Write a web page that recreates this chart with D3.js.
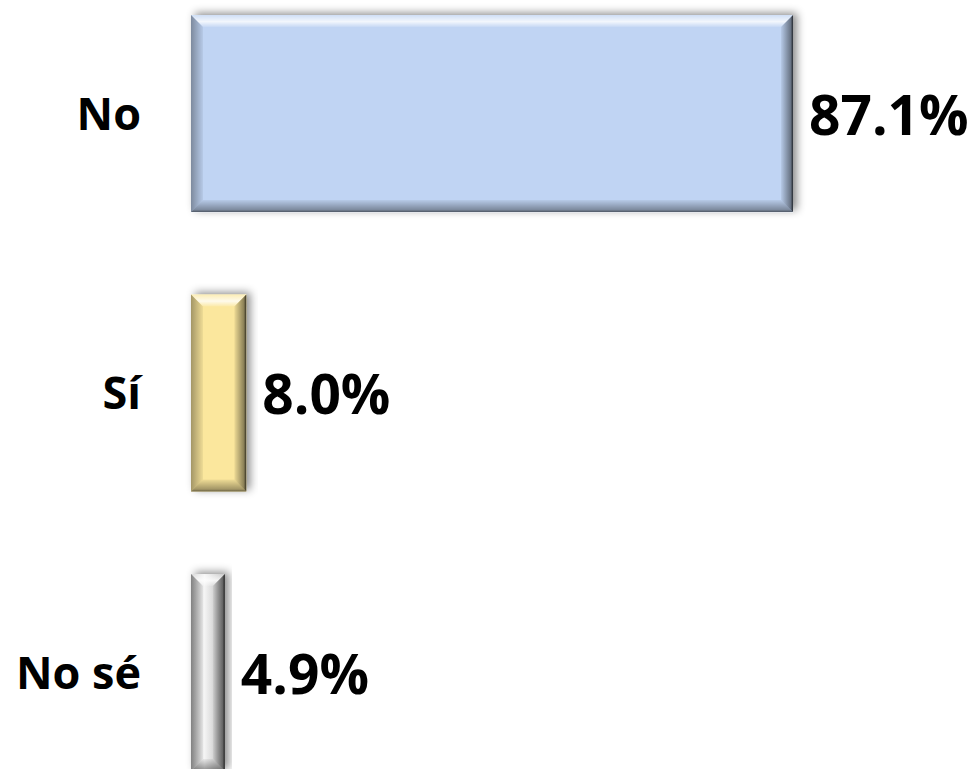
<!DOCTYPE html>
<html>
<head>
<meta charset="utf-8">
<script src="https://cdn.jsdelivr.net/npm/d3@7"></script>
<style>
  html, body { margin: 0; padding: 0; background: #fff; }
  svg { display: block; }
</style>
</head>
<body>
<svg id="chart"></svg>
<script>
// Chart data
const categories = ["No", "Sí", "No sé"];
const values = [87.1, 8.0, 4.9];

// Bar base colours (one per category)
const barColors = ["#c0d4f3", "#fbe79d", "#dcdcdc"];

const width = 973, height = 769;
const bevel = 12;

const svg = d3.select("#chart").attr("width", width).attr("height", height);

const x = d3.scaleLinear().domain([0, d3.max(values)]).range([191, 793]);
const y = d3.scaleBand().domain(categories)
    .range([-26.2, 812.3]).paddingInner(0.295).paddingOuter(0.1475);
const color = d3.scaleOrdinal().domain(categories).range(barColors);

// Gradients and shadow
const defs = svg.append("defs");

function grad(id, x2, y2, stops) {
    const g = defs.append("linearGradient").attr("id", id)
        .attr("x1", 0).attr("y1", 0).attr("x2", x2).attr("y2", y2);
    stops.forEach(s => g.append("stop")
        .attr("offset", s[0]).attr("stop-color", s[1]).attr("stop-opacity", s[2]));
}
grad("gTop", 0, 1, [[0, "#fff", 0.25], [0.55, "#fff", 0.8], [1, "#fff", 0.1]]);
grad("gLeft", 1, 0, [[0, "#000", 0.35], [1, "#000", 0.05]]);
grad("gRight", 1, 0, [[0, "#000", 0.05], [0.8, "#000", 0.45], [1, "#000", 0.8]]);
grad("gBottom", 0, 1, [[0, "#000", 0.05], [0.8, "#000", 0.35], [1, "#000", 0.6]]);
// gray bar body: light in the middle
grad("gGray", 1, 0, [[0, "#c8c8c8", 1], [0.4, "#f4f4f4", 1], [1, "#b4b4b4", 1]]);

const shadow = defs.append("filter").attr("id", "shadow")
    .attr("x", "-20%").attr("y", "-20%").attr("width", "140%").attr("height", "140%");
shadow.append("feDropShadow").attr("dx", 4).attr("dy", -2)
    .attr("stdDeviation", 4).attr("flood-color", "#000").attr("flood-opacity", 0.45);

// Bars
const bars = svg.append("g").selectAll("g.bar")
    .data(categories.map((c, i) => ({ c, v: values[i] })))
    .join("g").attr("class", "bar");

bars.each(function(d) {
    const g = d3.select(this);
    const x0 = x(0), x1 = x(d.v), y0 = y(d.c), y1 = y(d.c) + y.bandwidth();
    const b = Math.min(bevel, (x1 - x0) / 2.5);
    g.append("rect")
        .attr("x", x0).attr("y", y0)
        .attr("width", x1 - x0).attr("height", y1 - y0)
        .attr("fill", d.c === "No sé" ? "url(#gGray)" : color(d.c))
        .attr("filter", "url(#shadow)");
    const faces = [
        ["gTop", [[x0, y0], [x1, y0], [x1 - b, y0 + b], [x0 + b, y0 + b]]],
        ["gLeft", [[x0, y0], [x0 + b, y0 + b], [x0 + b, y1 - b], [x0, y1]]],
        ["gRight", [[x1, y0], [x1, y1], [x1 - b, y1 - b], [x1 - b, y0 + b]]],
        ["gBottom", [[x0, y1], [x0 + b, y1 - b], [x1 - b, y1 - b], [x1, y1]]]
    ];
    faces.forEach(f => g.append("polygon")
        .attr("points", f[1].map(p => p.join(",")).join(" "))
        .attr("fill", `url(#${f[0]})`));
});

// Category labels
svg.append("g").selectAll("text")
    .data(categories)
    .join("text")
    .attr("x", 141)
    .attr("y", d => y(d) + y.bandwidth() / 2 + 16)
    .attr("text-anchor", "end")
    .attr("font-family", "'Open Sans', sans-serif")
    .attr("font-weight", 700)
    .attr("font-size", 45)
    .attr("fill", "#000")
    .text(d => d);

// Value labels
svg.append("g").selectAll("text")
    .data(categories.map((c, i) => ({ c, v: values[i] })))
    .join("text")
    .attr("x", d => x(d.v) + 16)
    .attr("y", d => y(d.c) + y.bandwidth() / 2 + 21)
    .attr("font-family", "'Open Sans', sans-serif")
    .attr("font-weight", 700)
    .attr("font-size", 55)
    .attr("fill", "#000")
    .text(d => d.v.toFixed(1) + "%");
</script>
</body>
</html>
